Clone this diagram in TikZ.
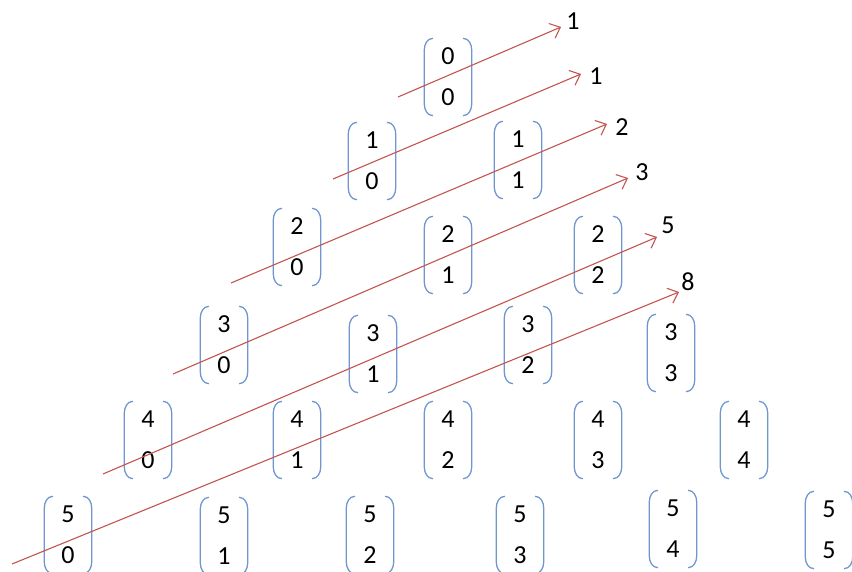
\documentclass[tikz,border=0pt]{standalone}
\usepackage{fontspec}
\setmainfont{Carlito}
\usetikzlibrary{arrows.meta}
\definecolor{arrowred}{RGB}{196,84,80}
\definecolor{bracketblue}{RGB}{112,150,206}
\begin{document}
\begin{tikzpicture}[x=1pt,y=1pt,
  binom/.style={rectangle, minimum width=50pt, minimum height=80pt, inner sep=0pt,
    align=center, font=\fontsize{26}{41}\selectfont,
    path picture={
      \draw[bracketblue, line width=1.3pt]
        ([shift={(10,-1.3)}]path picture bounding box.north west)
          to[out=180,in=90] ([shift={(1.3,-13)}]path picture bounding box.north west)
        -- ([shift={(1.3,13)}]path picture bounding box.south west)
          to[out=-90,in=180] ([shift={(10,1.3)}]path picture bounding box.south west);
      \draw[bracketblue, line width=1.3pt]
        ([shift={(-10,-1.3)}]path picture bounding box.north east)
          to[out=0,in=90] ([shift={(-1.3,-13)}]path picture bounding box.north east)
        -- ([shift={(-1.3,13)}]path picture bounding box.south east)
          to[out=-90,in=0] ([shift={(-10,1.3)}]path picture bounding box.south east);
    }},
  arr/.style={draw=arrowred, line width=1.1pt, -{Straight Barb[length=9pt,width=16pt,line width=1.1pt]}},
  lab/.style={font=\fontsize{26}{30}\selectfont, inner sep=0pt}
]
\useasboundingbox (0,0) rectangle (852,-572);
\clip (0,0) rectangle (852,-572);

% row 0
\node[binom] (c00) at (448,-77) {0\\0};
% row 1
\node[binom] (c10) at (372,-161) {1\\0};
\node[binom] (c11) at (518,-160) {1\\1};
% row 2
\node[binom] (c20) at (297,-247) {2\\0};
\node[binom] (c21) at (448,-255) {2\\1};
\node[binom] (c22) at (598,-255) {2\\2};
% row 3
\node[binom] (c30) at (224,-345) {3\\0};
\node[binom] (c31) at (373,-354) {3\\1};
\node[binom] (c32) at (528,-345) {3\\2};
\node[binom] (c33) at (671,-353) {3\\3};
% row 4
\node[binom] (c40) at (148,-440) {4\\0};
\node[binom] (c41) at (297,-440) {4\\1};
\node[binom] (c42) at (448,-440) {4\\2};
\node[binom] (c43) at (598,-440) {4\\3};
\node[binom] (c44) at (744,-440) {4\\4};
% row 5
\node[binom] (c50) at (68,-535) {5\\0};
\node[binom] (c51) at (224,-536) {5\\1};
\node[binom] (c52) at (370,-535) {5\\2};
\node[binom] (c53) at (520,-535) {5\\3};
\node[binom] (c54) at (673,-529) {5\\4};
\node[binom] (c55) at (829,-530) {5\\5};

% arrows
\coordinate (s1) at (398,-97);  \coordinate (e1) at (561,-27);
\coordinate (s2) at (333,-179); \coordinate (e2) at (581,-74);
\coordinate (s3) at (231,-283); \coordinate (e3) at (607,-124);
\coordinate (s4) at (173,-374); \coordinate (e4) at (628,-178);
\coordinate (s5) at (103,-474); \coordinate (e5) at (657,-237);
\coordinate (s6) at (12,-564);  \coordinate (e6) at (679,-292);

\draw[arr] (s1) -- (e1);
\draw[arr] (s2) -- (e2);
\draw[arr] (s3) -- (e3);
\draw[arr] (s4) -- (e4);
\draw[arr] (s5) -- (e5);
\draw[arr] (s6) -- (e6);

\node[lab] (l1) at (573,-21) {1};
\node[lab] (l2) at (596,-76) {1};
\node[lab] (l3) at (622,-127) {2};
\node[lab] (l4) at (642,-172) {3};
\node[lab] (l5) at (668,-225) {5};
\node[lab] (l6) at (688,-282) {8};
\end{tikzpicture}
\end{document}
